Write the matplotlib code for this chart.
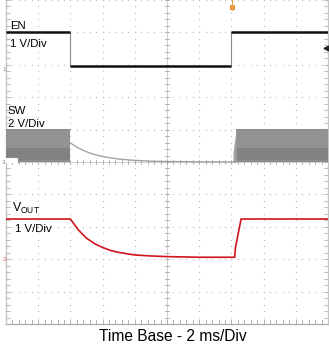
import numpy as np
import matplotlib
matplotlib.use("Agg")
import matplotlib.pyplot as plt

plt.rcParams['font.family'] = ['Liberation Sans', 'DejaVu Sans']

# ---- data (time in ms, 2 ms/div; voltages in V) ----
en_t = [0.0, 4.0, 4.0, 14.0, 14.0, 20.0]
en_v = [1.15, 1.15, 0.10, 0.10, 1.15, 1.15]
en_scale = 1.0      # V/div
en_ref = 7.85       # ground marker position (div)

sw_scale = 2.0
sw_ref = 5.0
sw_on1 = [0.0, 4.0]          # switching burst 1
sw_on2 = [14.3, 20.0]        # switching burst 2
sw_high = 2.05
sw_start_t = [0.0, 0.75, 0.75]
sw_start_v = [0.30, 0.30, 0.0]
sw_decay_t = [4.0, 4.5, 5.0, 5.5, 6.0, 6.5, 7.0, 8.0, 9.0, 10.0, 12.0, 14.0, 14.3]
sw_decay_v = [1.17, 0.86, 0.63, 0.46, 0.34, 0.25, 0.18, 0.10, 0.05, 0.03, 0.01, 0.0, 0.0]

vout_scale = 1.0
vout_ref = 2.0
vout_t = [0.0, 4.0, 4.5, 5.0, 5.5, 6.0, 6.5, 7.0, 8.0, 9.0, 10.0, 11.0, 12.0,
          14.2, 14.25, 14.6, 20.0]
vout_v = [1.24, 1.24, 0.90, 0.65, 0.48, 0.36, 0.27, 0.21, 0.13, 0.10, 0.08, 0.07, 0.06,
          0.06, 0.35, 1.24, 1.24]

labels = {"en": ["EN", "1 V/Div"], "sw": ["SW", "2 V/Div"],
          "vout": ["V$_{\\mathregular{OUT}}$", "1 V/Div"]}
xlabel = "Time Base - 2 ms/Div"

# ---- figure ----
W, H = 329, 346
fig = plt.figure(figsize=(W / 100, H / 100), dpi=100)
ax = fig.add_axes([6 / W, (H - 324) / H, 322 / W, 324 / H])
ax.set_xlim(0, 20)
ax.set_ylim(0, 10)
ax.axis('off')

# grid of dots
gcol = '#bdbdbd'
xs_d = np.arange(0, 20.001, 0.4)
ys_d = np.arange(0, 10.001, 0.2)
for gx in np.arange(0, 20.001, 2.0):
    if abs(gx - 10) < 1e-6:
        continue
    ax.plot(np.full_like(ys_d, gx), ys_d, ls='none', marker='s', ms=0.85,
            mec='none', mfc=gcol, clip_on=False)
for gy in np.arange(0, 10.001, 1.0):
    if abs(gy - 5) < 1e-6:
        continue
    ax.plot(xs_d, np.full_like(xs_d, gy), ls='none', marker='s', ms=0.85,
            mec='none', mfc=gcol, clip_on=False)

# centre axes and borders with minor ticks
acol = '#a8a8a8'
tx = 20 / 322 * 2.0
ty = 2.0 / 32.4
ax.plot([10, 10], [0, 10], color='#d0d0d0', lw=0.7)
ax.plot([0, 20], [5, 5], color='#d0d0d0', lw=0.7)
for yy in np.arange(0, 10.001, 0.2):
    ax.plot([10 - tx, 10 + tx], [yy, yy], color=acol, lw=0.6)
for xx in np.arange(0, 20.001, 0.4):
    ax.plot([xx, xx], [5 - ty, 5 + ty], color=acol, lw=0.6)
# bottom border
ax.plot([0, 20], [0, 0], color='#a8a8a8', lw=0.9, clip_on=False)
for xx in np.arange(0, 20.001, 0.4):
    ax.plot([xx, xx], [0, 2 * ty], color=acol, lw=0.6)
# left and right borders
ax.plot([0, 0], [0, 10], color='#c4c4c4', lw=1.0, clip_on=False)
ax.plot([20, 20], [0, 10], color='#c4c4c4', lw=1.0, clip_on=False)
for yy in np.arange(0, 10.001, 0.2):
    ax.plot([0, 2 * tx], [yy, yy], color=acol, lw=0.5)
    ax.plot([20 - 2 * tx, 20], [yy, yy], color=acol, lw=0.5)

# ---- SW trace ----
sw_top = sw_ref + sw_high / sw_scale
for seg in (sw_on1, sw_on2):
    ax.fill_between(seg, [sw_ref] * 2, [sw_top] * 2, color='#939393', lw=0, zorder=3)
    ax.fill_between(seg, [sw_ref] * 2, [sw_ref + 0.42] * 2, color='#828282', lw=0, zorder=3)
    ax.fill_between(seg, [sw_ref] * 2, [sw_ref + 0.07] * 2, color='#8c8c8c', lw=0, zorder=3)
    ax.plot(seg, [sw_top] * 2, color='#8a8a8a', lw=0.6, zorder=3)
# start notch
st = np.array(sw_start_t)
sv = sw_ref + np.array(sw_start_v) / sw_scale
ax.fill_between(st[:2], [sw_ref - 0.02] * 2, sv[:2], color='white', lw=0, zorder=4)
ax.plot(st, sv, color='#8a8a8a', lw=0.8, zorder=4)
# rising edge of second burst
ax.fill_between([sw_on2[0] - 0.2, sw_on2[0]], [sw_ref] * 2, [sw_ref + 0.3, sw_top],
                color='#a0a0a0', lw=0, zorder=3)
ax.plot(sw_decay_t, sw_ref + np.array(sw_decay_v) / sw_scale, color='#a2a2a2', lw=1.0, zorder=4)

# ---- EN trace ----
en_y = en_ref + np.array(en_v) / en_scale
ax.plot(en_t, en_y, color='#8a8a8a', lw=0.8, zorder=5)
for i in range(len(en_t) - 1):
    if en_y[i] == en_y[i + 1]:
        ax.plot(en_t[i:i + 2], en_y[i:i + 2], color='#111111', lw=1.8,
                solid_capstyle='butt', zorder=6)

# ---- VOUT trace ----
ax.plot(vout_t, vout_ref + np.array(vout_v) / vout_scale, color='#d0141c', lw=1.2, zorder=6)

# ---- labels ----
fs = 8.2
ax.text(0.25, 9.04, labels["en"][0], fontsize=fs, va='bottom', ha='left')
ax.text(0.25, 8.55, labels["en"][1], fontsize=fs, va='baseline', ha='left')
ax.text(0.12, 6.48, labels["sw"][0], fontsize=fs, va='baseline', ha='left')
ax.text(0.12, 6.08, labels["sw"][1], fontsize=fs, va='baseline', ha='left')
ax.text(0.37, 3.46, labels["vout"][0], fontsize=8.8, va='baseline', ha='left')
ax.text(0.56, 2.84, labels["vout"][1], fontsize=fs, va='baseline', ha='left')

# ground markers / trigger markers
ax.text(-0.02, en_ref, '1', fontsize=4.5, color='#888888', ha='right', va='center', clip_on=False)
ax.text(-0.02, sw_ref, '3', fontsize=4.5, color='#888888', ha='right', va='center', clip_on=False)
ax.text(-0.02, vout_ref, '2', fontsize=4.5, color='#e06060', ha='right', va='center', clip_on=False)
ax.plot([14.05], [9.78], marker='s', ms=3.2, mfc='#f4a040', mec='#e08020', mew=0.6, clip_on=False)
ax.plot([14.05, 14.05], [9.68, 10.0], color='#f0a050', lw=0.8, clip_on=False)
ax.plot([19.85], [8.52], marker='<', ms=3.5, color='#222222', clip_on=False)

fig.text(173 / W, (H - 341) / H, xlabel, fontsize=11.2, ha='center', va='baseline')

fig.savefig('out.png', dpi=100, facecolor='white')
